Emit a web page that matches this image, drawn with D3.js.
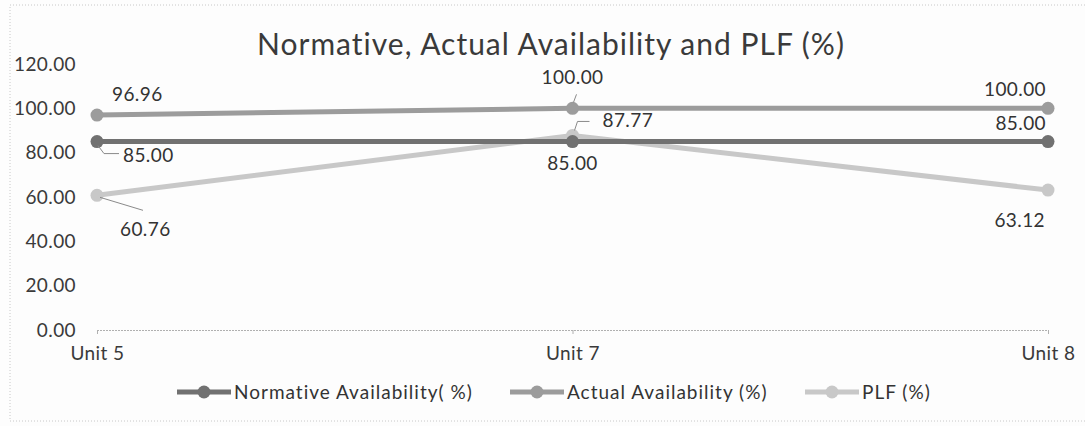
<!DOCTYPE html>
<html>
<head>
<meta charset="utf-8">
<script src="https://cdn.jsdelivr.net/npm/d3@7"></script>
<style>
  html, body { margin: 0; padding: 0; background: #fdfdfd; }
  svg { display: block; font-family: Lato, "Open Sans", sans-serif; }
</style>
</head>
<body>
<div id="wrapper"></div>
<script>
// Data
const units = ["Unit 5", "Unit 7", "Unit 8"]
const normative = [85.00, 85.00, 85.00]
const actual = [96.96, 100.00, 100.00]
const plf = [60.76, 87.77, 63.12]
const yTicks = [0, 20, 40, 60, 80, 100, 120]
const seriesNames = ["Normative Availability( %)", "Actual Availability (%)", "PLF (%)"]

// label placement per series & point: [dx, dy, anchor, leader path relative to point or null]
const labelPos = [
  [[26, 20, "start", [[1, 4], [7, 12], [22, 12]]], [0, 28, "middle", null], [-2, -12, "end", null]],
  [[15, -14, "start", null], [0, -24, "middle", [[1, -6], [4, -14]]], [-2, -12, "end", null]],
  [[23, 41, "start", [[3, 2], [46, 15]]], [30, -8, "start", [[2, -5], [5, -14], [17, -14]]], [-3, 37, "end", null]]
]

function draw() {
  const dimensions = {
    width: 1085, height: 426,
    margins: { top: 64, bottom: 96, left: 97, right: 37 }
  }
  dimensions.boundsWidth = dimensions.width - dimensions.margins.left - dimensions.margins.right
  dimensions.boundsHeight = dimensions.height - dimensions.margins.top - dimensions.margins.bottom

  const svg = d3.select("#wrapper").append("svg")
    .attr("width", dimensions.width)
    .attr("height", dimensions.height)

  // chart area border (dotted, as in the scan)
  svg.append("rect")
    .attr("x", 10).attr("y", 5).attr("width", 1090).attr("height", 416)
    .attr("fill", "none").attr("stroke", "#c8c8c8").attr("stroke-dasharray", "1,2")

  svg.append("text")
    .attr("x", 551).attr("y", 55)
    .attr("text-anchor", "middle")
    .attr("font-size", 30)
    .attr("letter-spacing", 1)
    .attr("fill", "#3a3a3a")
    .text("Normative, Actual Availability and PLF (%)")

  const bounds = svg.append("g")
    .attr("transform", `translate(${dimensions.margins.left},${dimensions.margins.top})`)

  const xScale = d3.scalePoint().domain(units).range([0, dimensions.boundsWidth])
  const yScale = d3.scaleLinear().domain([0, 120]).range([dimensions.boundsHeight, 0])

  // y axis labels
  const yAxis = bounds.append("g")
    .call(d3.axisLeft(yScale).tickValues(yTicks).tickFormat(d3.format(".2f")).tickSize(0).tickPadding(21))
  yAxis.select(".domain").remove()
  yAxis.selectAll("text").attr("font-size", 19).attr("letter-spacing", 0.4)
    .attr("fill", "#3a3a3a").attr("font-family", "Lato, sans-serif")

  // x axis
  const xAxis = bounds.append("g")
    .attr("transform", `translate(0,${dimensions.boundsHeight})`)
    .call(d3.axisBottom(xScale).tickSize(4).tickPadding(13))
  xAxis.select(".domain").attr("stroke", "#b0b0b0").attr("stroke-dasharray", "2,1")
  xAxis.selectAll(".tick line").attr("stroke", "#b0b0b0")
  xAxis.selectAll("text").attr("font-size", 19).attr("letter-spacing", 0.4)
    .attr("fill", "#3a3a3a").attr("font-family", "Lato, sans-serif")

  const series = [
    { name: seriesNames[0], values: normative, color: "#717171" },
    { name: seriesNames[1], values: actual, color: "#9c9c9c" },
    { name: seriesNames[2], values: plf, color: "#c8c8c8" }
  ]

  const line = d3.line().x((d, i) => xScale(units[i])).y(d => yScale(d))

  // draw PLF first, then actual, normative on top
  const order = [2, 1, 0]
  order.forEach(s => {
    const ser = series[s]
    bounds.append("path")
      .datum(ser.values)
      .attr("d", line)
      .attr("fill", "none")
      .attr("stroke", ser.color)
      .attr("stroke-width", 5)
    bounds.selectAll(null).data(ser.values).enter().append("circle")
      .attr("cx", (d, i) => xScale(units[i]))
      .attr("cy", d => yScale(d))
      .attr("r", 6.5)
      .attr("fill", ser.color)
  })

  // data labels + leader lines
  series.forEach((ser, s) => {
    ser.values.forEach((v, i) => {
      const [dx, dy, anchor, leader] = labelPos[s][i]
      const px = xScale(units[i]), py = yScale(v)
      if (leader) {
        bounds.append("path")
          .attr("d", d3.line()(leader.map(p => [px + p[0], py + p[1]])))
          .attr("fill", "none").attr("stroke", "#8a8a8a").attr("stroke-width", 1)
      }
      bounds.append("text")
        .attr("x", px + dx).attr("y", py + dy)
        .attr("text-anchor", anchor)
        .attr("font-size", 19)
        .attr("letter-spacing", 0.4)
        .attr("fill", "#333")
        .text(d3.format(".2f")(v))
    })
  })

  // legend
  const legendX = [177, 510, 805]
  const legend = svg.append("g").attr("transform", "translate(0,392)")
  series.forEach((ser, s) => {
    const g = legend.append("g").attr("transform", `translate(${legendX[s]},0)`)
    g.append("line").attr("x1", 0).attr("x2", 54).attr("stroke", ser.color).attr("stroke-width", 5)
    g.append("circle").attr("cx", 27).attr("r", 6.5).attr("fill", ser.color)
    g.append("text").attr("x", 57).attr("y", 7).attr("font-size", 19).attr("letter-spacing", 1)
      .attr("fill", "#333").text(ser.name)
  })
}

draw()
</script>
</body>
</html>
